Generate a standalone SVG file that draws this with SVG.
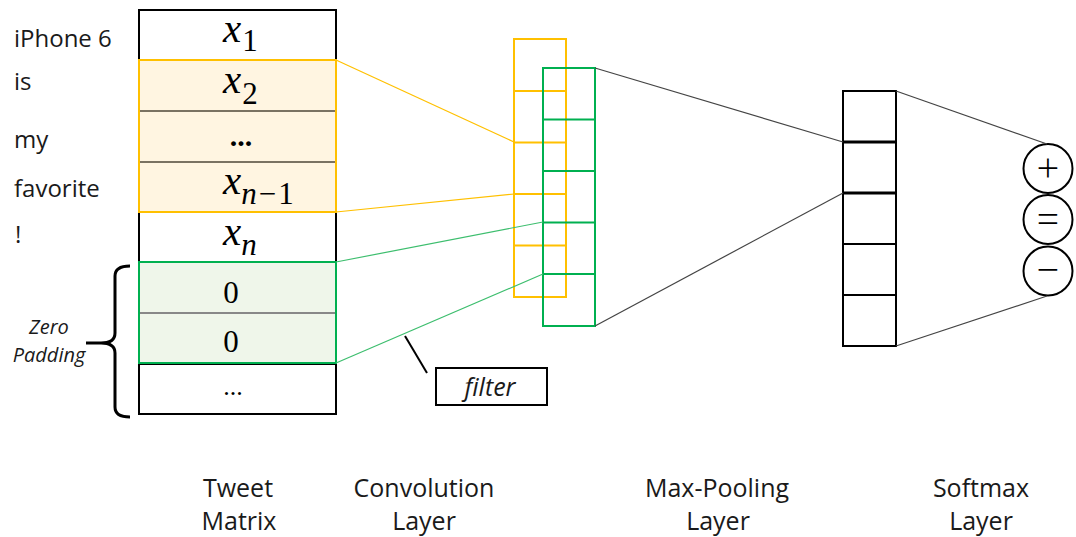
<svg xmlns="http://www.w3.org/2000/svg" width="1076" height="537" viewBox="0 0 1076 537">
<style>
.w{font-family:"Open Sans","Liberation Sans",sans-serif;font-size:24px;fill:#1a1a1a}
.lbl{font-family:"Open Sans","Liberation Sans",sans-serif;font-size:25px;fill:#1a1a1a;text-anchor:middle}
.it{font-family:"Open Sans","Liberation Sans",sans-serif;font-style:italic;fill:#1a1a1a;text-anchor:middle}
.m{font-family:"Liberation Serif",serif;font-style:italic;font-size:41px;fill:#000}
.sub{font-size:31px}
.up{font-style:normal}
.num{font-family:"Liberation Serif",serif;font-size:31px;fill:#000;text-anchor:middle}
.sym{font-family:"Open Sans","Liberation Sans",sans-serif;font-weight:300;font-size:40px;fill:#000;text-anchor:middle}
.blk{fill:none;stroke:#000;stroke-width:2}
.or{stroke:#FFC000;fill:none;stroke-width:2}
.gr{stroke:#00B050;fill:none;stroke-width:2}
</style>
<g id="words">
<text class="w" x="14" y="47">iPhone 6</text>
<text class="w" x="14" y="90">is</text>
<text class="w" x="14" y="148">my</text>
<text class="w" x="14" y="197">favorite</text>
<text class="w" x="15" y="243">!</text>
</g>
<g id="tweet-matrix">
<rect x="139" y="10" width="197" height="404" fill="#fff" stroke="#000" stroke-width="2"/>
<rect x="139" y="60" width="197" height="152" fill="#FFF5E1"/>
<rect x="139" y="262" width="197" height="101" fill="#EFF6EA"/>
<line x1="139" y1="111" x2="336" y2="111" stroke="#7A7262" stroke-width="2"/>
<line x1="139" y1="162" x2="336" y2="162" stroke="#7A7262" stroke-width="2"/>
<line x1="139" y1="313" x2="336" y2="313" stroke="#888" stroke-width="2"/>
<line x1="139" y1="364" x2="336" y2="364" stroke="#000" stroke-width="2"/>
<rect x="139" y="60" width="197" height="152" class="or"/>
<rect x="139" y="262" width="197" height="101" class="gr"/>
<text class="m" x="223" y="42">x<tspan class="sub up" dx="1" dy="9">1</tspan></text>
<text class="m" x="223" y="93">x<tspan class="sub up" dx="1" dy="11">2</tspan></text>
<text x="241" y="146" font-family="Liberation Serif,serif" font-weight="bold" font-size="30" text-anchor="middle">...</text>
<text class="m" x="223" y="194">x<tspan class="sub" dy="10">n</tspan><tspan class="sub up" dx="2">−</tspan><tspan class="sub up" dx="2">1</tspan></text>
<text class="m" x="223" y="245">x<tspan class="sub" dy="10">n</tspan></text>
<text class="num" x="231" y="303">0</text>
<text class="num" x="231" y="352">0</text>
<text x="233" y="395" font-family="Liberation Serif,serif" font-size="26" text-anchor="middle">...</text>
</g>
<g id="zero-padding">
<path d="M130,266 Q115,266 115,276 L115,333 Q115,343 101,343 L86,343 M101,343 Q115,343 115,353 L115,407 Q115,417 130,417" fill="none" stroke="#000" stroke-width="3"/>
<text class="it" x="49" y="334" font-size="20">Zero</text>
<text class="it" x="49" y="362" font-size="20">Padding</text>
</g>
<g id="convolution-layer">
<rect x="514" y="39" width="52" height="258" class="or"/>
<line x1="514" y1="91" x2="566" y2="91" class="or"/>
<line x1="514" y1="142.5" x2="566" y2="142.5" class="or"/>
<line x1="514" y1="194" x2="566" y2="194" class="or" stroke-width="3"/>
<line x1="514" y1="245.5" x2="566" y2="245.5" class="or"/>
<rect x="543" y="68" width="52" height="258" class="gr"/>
<line x1="543" y1="119.5" x2="595" y2="119.5" class="gr" stroke-width="3"/>
<line x1="543" y1="171" x2="595" y2="171" class="gr"/>
<line x1="543" y1="222.5" x2="595" y2="222.5" class="gr" stroke-width="3"/>
<line x1="543" y1="274" x2="595" y2="274" class="gr"/>
</g>
<g id="max-pooling-layer">
<rect x="843" y="91" width="53" height="255" class="blk"/>
<line x1="843" y1="142" x2="896" y2="142" stroke="#000" stroke-width="3"/>
<line x1="843" y1="193" x2="896" y2="193" stroke="#000" stroke-width="3"/>
<line x1="843" y1="244" x2="896" y2="244" stroke="#000" stroke-width="2"/>
<line x1="843" y1="295" x2="896" y2="295" stroke="#000" stroke-width="2"/>
</g>
<g id="softmax-layer">
<circle cx="1048" cy="168.5" r="24.5" fill="#fff" stroke="#000" stroke-width="2"/>
<circle cx="1048" cy="219.5" r="24.5" fill="#fff" stroke="#000" stroke-width="2"/>
<circle cx="1048" cy="271" r="24.5" fill="#fff" stroke="#000" stroke-width="2"/>
<text class="sym" x="1048" y="182">+</text>
<text class="sym" x="1048" y="233">=</text>
<text class="sym" x="1048" y="284">−</text>
</g>
<g id="connectors" fill="none" stroke-width="1.2">
<line x1="336" y1="60" x2="514" y2="142" stroke="#FFC000"/>
<line x1="336" y1="212" x2="514" y2="194" stroke="#FFC000"/>
<line x1="336" y1="262" x2="543" y2="222" stroke="#3DBE6E"/>
<line x1="336" y1="363" x2="543" y2="274" stroke="#3DBE6E"/>
<line x1="595" y1="68" x2="843" y2="142" stroke="#444"/>
<line x1="595" y1="326" x2="843" y2="193" stroke="#444"/>
<line x1="896" y1="91" x2="1047" y2="144" stroke="#444"/>
<line x1="896" y1="346" x2="1047" y2="296" stroke="#444"/>
</g>
<g id="filter-label">
<line x1="405" y1="336" x2="427" y2="373" stroke="#000" stroke-width="2"/>
<rect x="436" y="368" width="111" height="37" fill="#fff" stroke="#000" stroke-width="2"/>
<text class="it" x="490" y="396" font-size="25">filter</text>
</g>
<g id="labels">
<text class="lbl" x="238" y="497">Tweet</text>
<text class="lbl" x="239" y="530">Matrix</text>
<text class="lbl" x="424" y="497">Convolution</text>
<text class="lbl" x="424" y="530">Layer</text>
<text class="lbl" x="717" y="497">Max-Pooling</text>
<text class="lbl" x="718" y="530">Layer</text>
<text class="lbl" x="981" y="497">Softmax</text>
<text class="lbl" x="981" y="530">Layer</text>
</g>
</svg>
